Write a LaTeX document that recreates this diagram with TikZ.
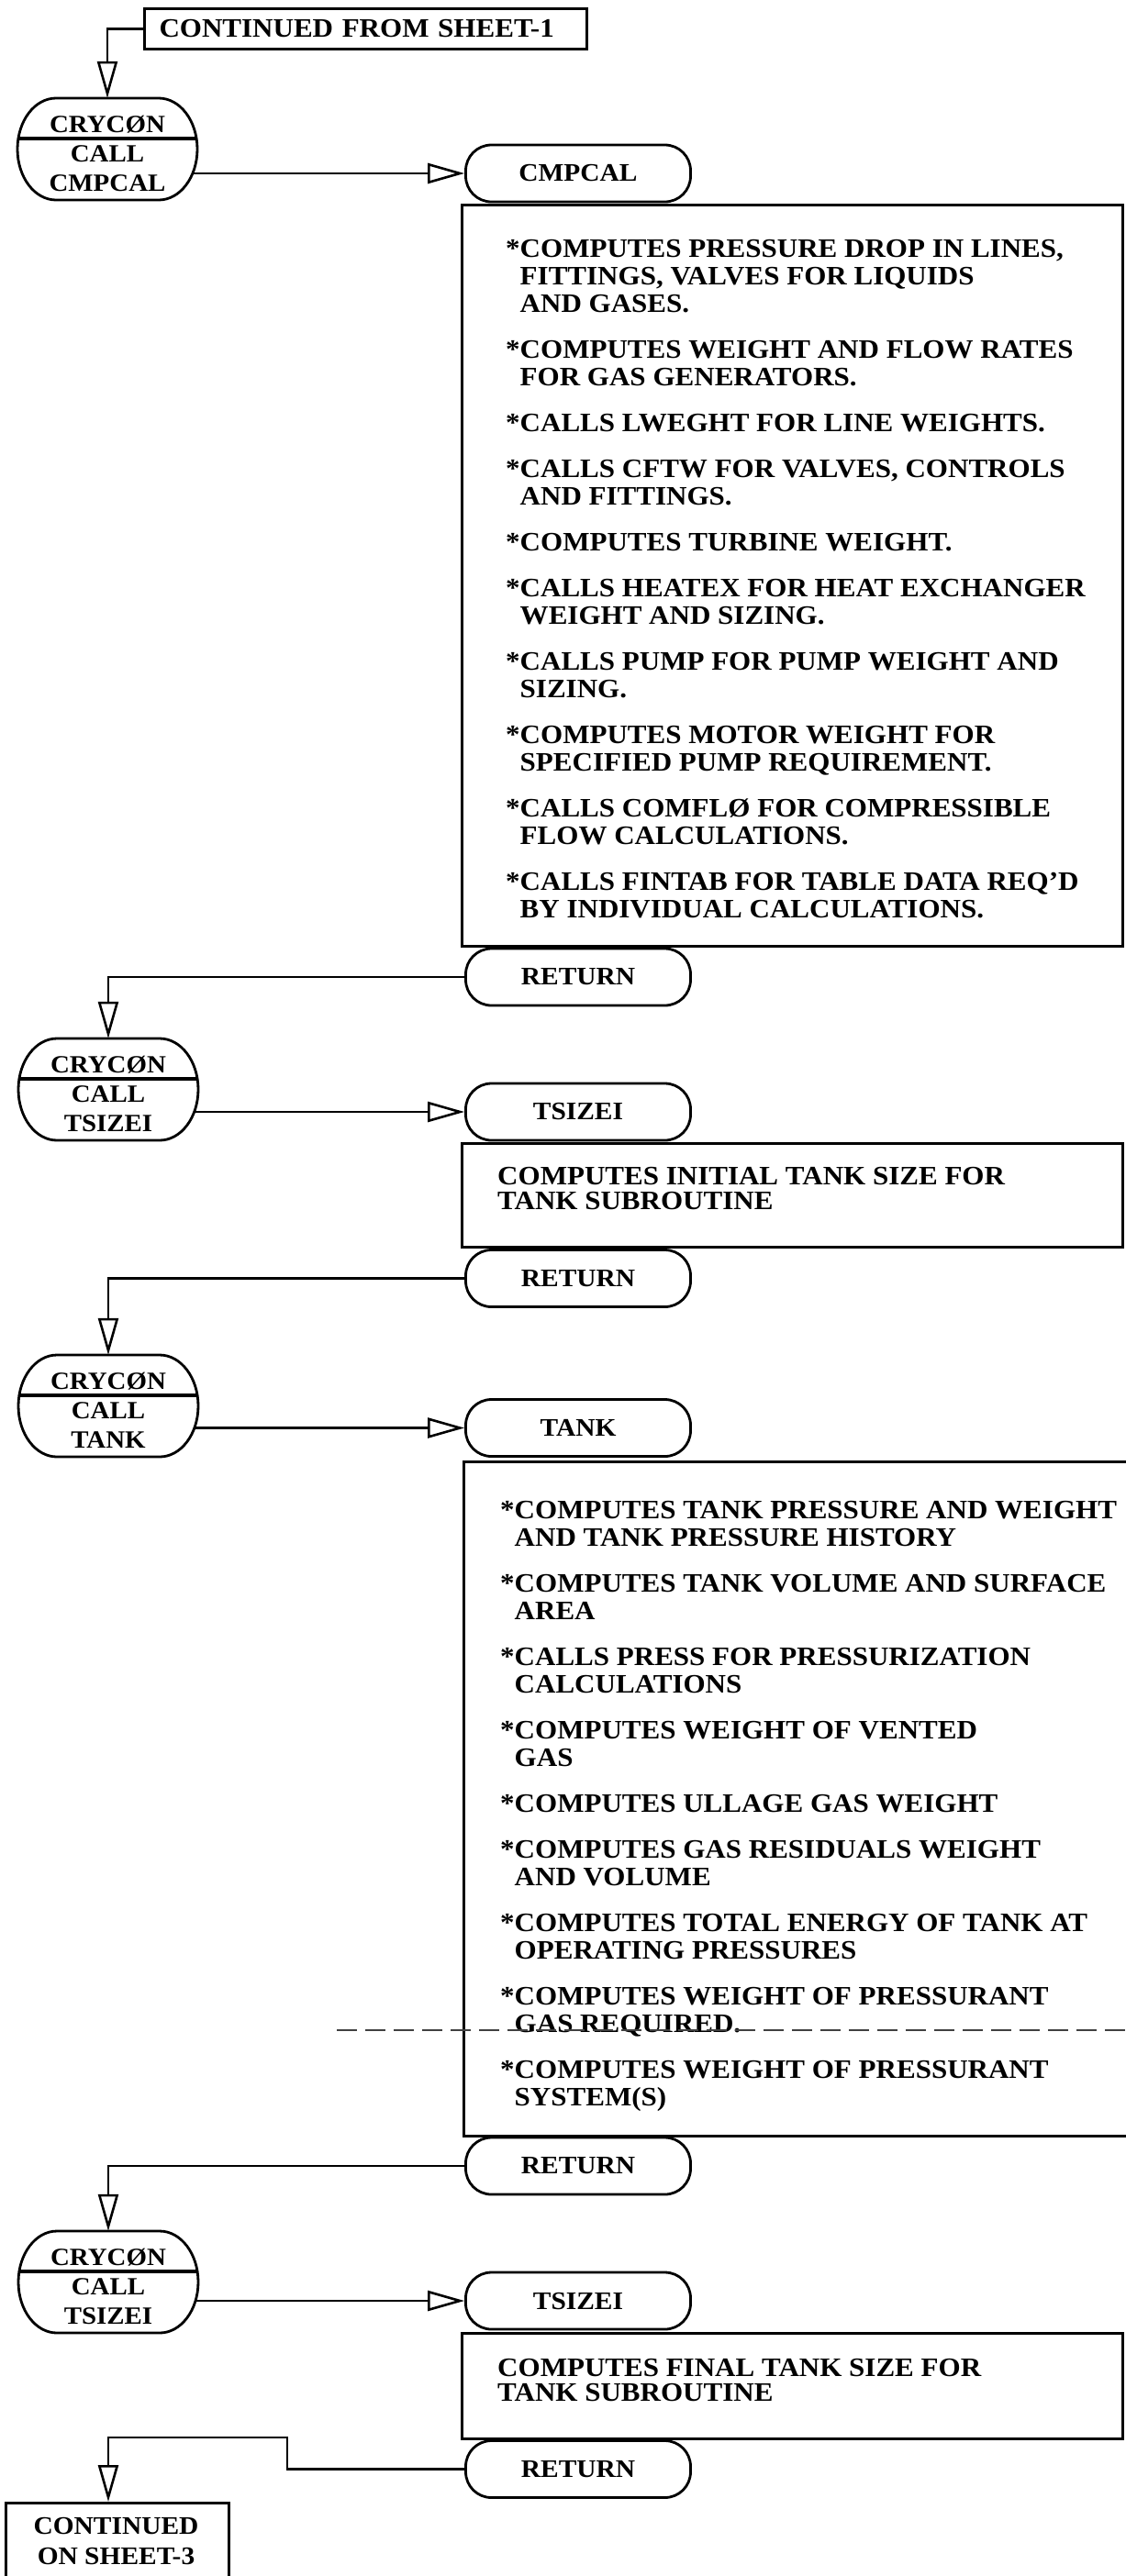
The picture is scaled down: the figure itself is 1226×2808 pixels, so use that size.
\documentclass[tikz,border=0pt]{standalone}
\usepackage{fontspec}
\setmainfont{Liberation Serif}[FakeStretch=1.07]
\usetikzlibrary{arrows.meta,calc}
\pgfdeclarelayer{bg}
\pgfdeclarelayer{conn}
\pgfsetlayers{bg,conn,main}
\newcommand\ftO{\bfseries\fontsize{27}{32}\selectfont}
\newcommand\ftT{\bfseries\fontsize{27.5}{29}\selectfont}
\newcommand\ftB{\bfseries\fontsize{29}{30}\selectfont}
\newcommand\ftS{\bfseries\fontsize{29}{27}\selectfont}
\newcommand\ftF{\bfseries\fontsize{27.5}{33}\selectfont}
\newcommand\ind{\phantom{*}}
\newcommand\cryoval[4]{%
  \draw[line width=2.8pt, fill=white] (#2-56,-#3) -- (#2+56,-#3)
    arc[start angle=90,end angle=-90,x radius=42,y radius=55.5]
    -- (#2-56,-#3-111)
    arc[start angle=270,end angle=90,x radius=42,y radius=55.5] -- cycle;
  \draw[line width=3.2pt] (#2-97,-#3-44) -- (#2+97,-#3-44);
  \node[inner sep=0pt, minimum width=196pt, minimum height=111pt] (#1) at (#2,-#3-55.5) {};
  \node[font=\ftO, align=center, inner sep=0pt] (#1t) at (#2,-#3-60) {CRYCØN\\CALL\\#4};
}
\begin{document}
\begin{tikzpicture}[x=1pt,y=1pt,
  ln/.style={line width=2.6pt},
  arr/.style={ln,-{Triangle[open,length=40pt,width=22pt,line width=2.6pt]}},
  box/.style={draw,line width=3pt,fill=white,rectangle,inner sep=0pt,anchor=north west},
  term/.style={draw,line width=2.8pt,fill=white,rounded corners=28pt,minimum width=245pt,minimum height=62pt,inner sep=0pt,font=\ftT},
  btext/.style={anchor=north west,align=left,inner sep=0pt,font=\ftB}]
\begin{pgfonlayer}{bg}
  \fill[white] (0,0) rectangle (1226,-2808);
\end{pgfonlayer}
\useasboundingbox (0,0) rectangle (1226,-2808);

% top box
\node[box, minimum width=482pt, minimum height=44pt, text width=450pt, inner xsep=16pt, align=left, font=\ftB, anchor=north west] (top) at (156,-8) {CONTINUED FROM SHEET-1};

% ovals
\cryoval{o1}{117}{107}{CMPCAL}
\cryoval{o2}{118}{1132}{TSIZEI}
\cryoval{o3}{118}{1477}{TANK}
\cryoval{o4}{118}{2432}{TSIZEI}

% description boxes
\node[box, minimum width=720pt, minimum height=808pt] (b1) at (502,-222) {};
\node[box, minimum width=720pt, minimum height=113pt] (b2) at (502,-1245) {};
\node[box, minimum width=760pt, minimum height=735pt] (b3) at (504,-1592) {};
\node[box, minimum width=720pt, minimum height=115pt] (b4) at (502,-2542) {};

% terminals
\node[term] (t1) at (630,-189) {CMPCAL};
\node[term] (r1) at (630,-1065) {RETURN};
\node[term] (t2) at (630,-1212) {TSIZEI};
\node[term] (r2) at (630,-1393.5) {RETURN};
\node[term] (t3) at (630,-1556.5) {TANK};
\node[term] (r3) at (630,-2361) {RETURN};
\node[term] (t4) at (630,-2508) {TSIZEI};
\node[term] (r4) at (630,-2691.5) {RETURN};

% final box
\node[box, minimum width=243pt, minimum height=120pt] (fin) at (5,-2727) {};
\node[font=\ftF, align=center, inner sep=0pt] (fint) at (126.5,-2770) {CONTINUED\\ON SHEET-3};

% box texts
\node[btext] (b1t) at (551,-261.5) {*COMPUTES PRESSURE DROP IN LINES,\\
\ind FITTINGS, VALVES FOR LIQUIDS\\
\ind AND GASES.\\[20pt]
*COMPUTES WEIGHT AND FLOW RATES\\
\ind FOR GAS GENERATORS.\\[20pt]
*CALLS LWEGHT FOR LINE WEIGHTS.\\[20pt]
*CALLS CFTW FOR VALVES, CONTROLS\\
\ind AND FITTINGS.\\[20pt]
*COMPUTES TURBINE WEIGHT.\\[20pt]
*CALLS HEATEX FOR HEAT EXCHANGER\\
\ind WEIGHT AND SIZING.\\[20pt]
*CALLS PUMP FOR PUMP WEIGHT AND\\
\ind SIZING.\\[20pt]
*COMPUTES MOTOR WEIGHT FOR\\
\ind SPECIFIED PUMP REQUIREMENT.\\[20pt]
*CALLS COMFLØ FOR COMPRESSIBLE\\
\ind FLOW CALCULATIONS.\\[20pt]
*CALLS FINTAB FOR TABLE DATA REQ'D\\
\ind BY INDIVIDUAL CALCULATIONS.};

\node[btext, font=\ftS] (b2t) at (542,-1272.5) {COMPUTES INITIAL TANK SIZE FOR\\TANK SUBROUTINE};

\node[btext] (b3t) at (545,-1636.5) {*COMPUTES TANK PRESSURE AND WEIGHT\\
\ind AND TANK PRESSURE HISTORY\\[20pt]
*COMPUTES TANK VOLUME AND SURFACE\\
\ind AREA\\[20pt]
*CALLS PRESS FOR PRESSURIZATION\\
\ind CALCULATIONS\\[20pt]
*COMPUTES WEIGHT OF VENTED\\
\ind GAS\\[20pt]
*COMPUTES ULLAGE GAS WEIGHT\\[20pt]
*COMPUTES GAS RESIDUALS WEIGHT\\
\ind AND VOLUME\\[20pt]
*COMPUTES TOTAL ENERGY OF TANK AT\\
\ind OPERATING PRESSURES\\[20pt]
*COMPUTES WEIGHT OF PRESSURANT\\
\ind GAS REQUIRED.\\[20pt]
*COMPUTES WEIGHT OF PRESSURANT\\
\ind SYSTEM(S)};

\node[btext, font=\ftS] (b4t) at (542,-2571.5) {COMPUTES FINAL TANK SIZE FOR\\TANK SUBROUTINE};

% scan artefact dashed line
\coordinate (d1) at (367,-2213);
\coordinate (d2) at (1226,-2213);
\draw[line width=1.6pt, black!75, dash pattern=on 22pt off 9pt] (d1) -- (d2);

% connectors
\begin{pgfonlayer}{conn}
\draw[arr] (top.west) -| (o1.north);
\draw[arr] (o1.center |- t1.west) -- (t1.west);
\draw[arr] (r1.west) -| (o2.north);
\draw[arr] (o2.center |- t2.west) -- (t2.west);
\draw[arr] (r2.west) -| (o3.north);
\draw[arr] (o3.center |- t3.west) -- (t3.west);
\draw[arr] (r3.west) -| (o4.north);
\draw[arr] (o4.center |- t4.west) -- (t4.west);
\coordinate (k1) at (313,-2657);
\draw[arr] (r4.west) -| (k1) -| (o4.north |- fin.north);
\end{pgfonlayer}
\end{tikzpicture}
\end{document}
